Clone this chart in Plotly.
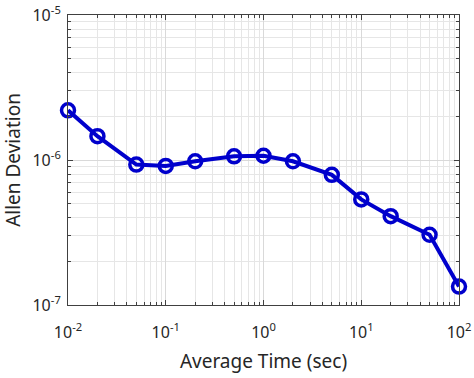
import plotly.graph_objects as go

avg_time = [0.01, 0.02, 0.05, 0.1, 0.2, 0.5, 1, 2, 5, 10, 20, 50, 100]
allan_dev = [2.2e-6, 1.46e-6, 0.93e-6, 0.91e-6, 0.98e-6, 1.06e-6, 1.07e-6,
             0.98e-6, 0.79e-6, 0.535e-6, 0.41e-6, 0.305e-6, 0.134e-6]

x_ticks = [1e-2, 1e-1, 1e0, 1e1, 1e2]
x_ticktext = ["10<sup>-2</sup>", "10<sup>-1</sup>", "10<sup>0</sup>", "10<sup>1</sup>", "10<sup>2</sup>"]
y_ticks = [1e-7, 1e-6, 1e-5]
y_ticktext = ["10<sup>-7</sup>", "10<sup>-6</sup>", "10<sup>-5</sup>"]

x_minor = [m * 10 ** e for e in range(-2, 2) for m in range(2, 10)]
y_minor = [m * 10 ** e for e in range(-7, -5) for m in range(2, 10)]

FONT = "Noto Sans"
TXT = "#262626"

fig = go.Figure()
fig.add_trace(go.Scatter(
    x=avg_time, y=allan_dev, mode="lines+markers",
    line=dict(color="#0000CC", width=4),
    marker=dict(symbol="circle-open", size=13, color="#0000CC", line=dict(width=3.5, color="#0000CC")),
    showlegend=False, cliponaxis=False,
))

axis_common = dict(
    showline=True, linecolor="#404040", linewidth=1, mirror="ticks",
    ticks="inside", ticklen=5, tickcolor="#404040",
    showgrid=True, gridcolor="#d9d9d9", gridwidth=1,
    zeroline=False, automargin=False,
    tickfont=dict(family=FONT, size=16, color=TXT),
)

fig.update_xaxes(
    type="log", range=[-2, 2], tickvals=x_ticks, ticktext=x_ticktext,
    ticklabelstandoff=13,
    minor=dict(tickvals=x_minor, ticks="inside", ticklen=3, tickcolor="#404040",
               showgrid=True, gridcolor="#e6e6e6", gridwidth=1),
    title=dict(text="Average Time (sec)", font=dict(family=FONT, size=19, color=TXT), standoff=12),
    **axis_common,
)
fig.update_yaxes(
    type="log", range=[-7, -5], tickvals=y_ticks, ticktext=y_ticktext,
    ticklabelstandoff=3,
    minor=dict(tickvals=y_minor, ticks="inside", ticklen=3, tickcolor="#404040",
               showgrid=True, gridcolor="#e6e6e6", gridwidth=1),
    title=dict(text="Allen Deviation", font=dict(family=FONT, size=19, color=TXT), standoff=6),
    **axis_common,
)

fig.update_layout(
    width=474, height=378,
    margin=dict(l=68, r=15, t=15, b=73, autoexpand=False),
    plot_bgcolor="white", paper_bgcolor="white",
)

fig.write_html("out.html", config={"displayModeBar": False},
               post_script="document.body.style.margin='0';document.body.style.overflow='hidden';")
